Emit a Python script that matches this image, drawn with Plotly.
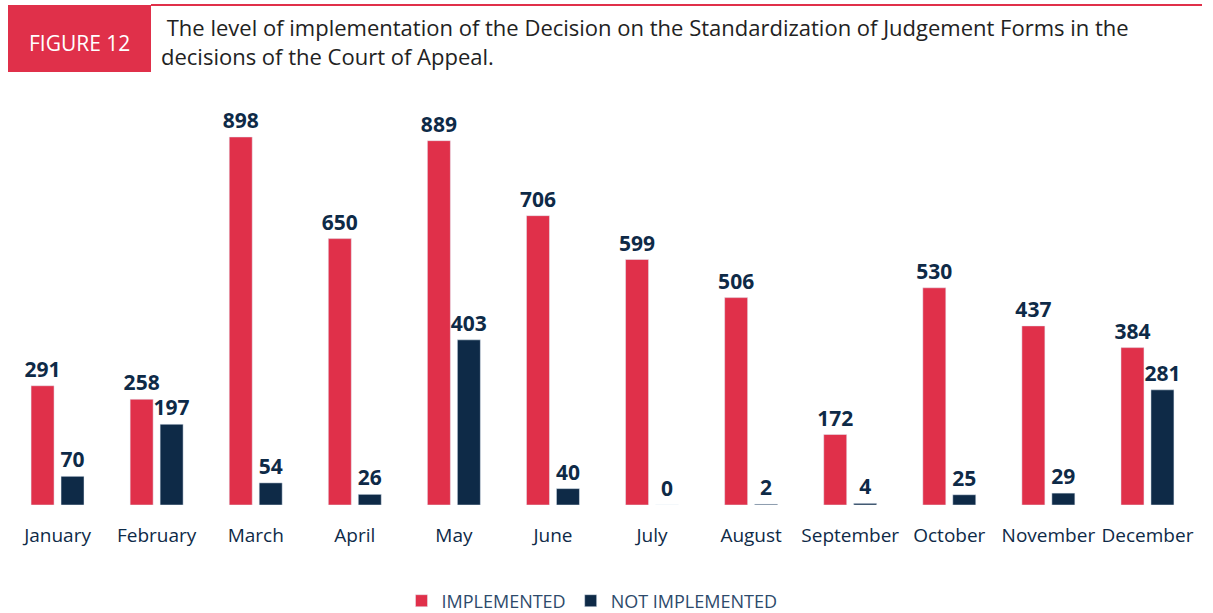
import plotly.graph_objects as go

months = ["January", "February", "March", "April", "May", "June", "July",
          "August", "September", "October", "November", "December"]
implemented = [291, 258, 898, 650, 889, 706, 599, 506, 172, 530, 437, 384]
not_implemented = [70, 197, 54, 26, 403, 40, 0, 2, 4, 25, 29, 281]

RED = "#e0304a"
NAVY = "#0e2a47"
FONT = "Open Sans"

W, H = 1213, 613
L, R, T, B = 8, 16, 105, 108
PW, PH = W - L - R, H - T - B


def px(x):
    return (x - L) / PW


def py(y):
    return (H - B - y) / PH


fig = go.Figure()
for name, vals, col in [("IMPLEMENTED", implemented, RED),
                        ("NOT IMPLEMENTED", not_implemented, NAVY)]:
    fig.add_trace(go.Bar(
        x=months, y=vals, name=name, marker_color=col,
        text=vals, textposition="outside", cliponaxis=False,
        constraintext="none",
        textfont=dict(family=FONT, size=21, color=NAVY, weight="bold"),
    ))

fig.update_layout(
    width=W, height=H,
    margin=dict(l=L, r=R, t=T, b=B, autoexpand=False),
    paper_bgcolor="white", plot_bgcolor="white",
    barmode="group", bargap=0.395, bargroupgap=0.233,
    font=dict(family=FONT, color=NAVY),
    showlegend=True,
    legend=dict(orientation="h", x=px(592), xanchor="center", y=py(601), yanchor="middle",
                font=dict(family=FONT, size=18, color="#2d4a6b"),
                traceorder="normal"),
)
fig.update_xaxes(
    showline=False, showgrid=False, zeroline=False, automargin=False,
    ticks="outside", ticklen=13, tickcolor="rgba(0,0,0,0)", tickangle=0,
    tickfont=dict(family=FONT, size=19, color=NAVY, weight=500),
)
fig.update_yaxes(
    range=[0, 976], visible=False, showgrid=False, zeroline=False, automargin=False,
)

# Header: red box with label, title text, and thin red rule
fig.add_shape(type="rect", xref="paper", yref="paper",
              x0=px(8), x1=px(151), y0=py(72), y1=py(5),
              fillcolor=RED, line_width=0, layer="above")
fig.add_shape(type="line", xref="paper", yref="paper",
              x0=px(151), x1=px(1202), y0=py(5), y1=py(5),
              line=dict(color=RED, width=2))
fig.add_annotation(xref="paper", yref="paper",
                   x=px(79.5), y=py(43),
                   text="FIGURE 12", showarrow=False,
                   font=dict(family=FONT, size=21, color="white"),
                   xanchor="center", yanchor="middle")
fig.add_annotation(xref="paper", yref="paper",
                   x=px(159), y=py(41),
                   text=" The level of implementation of the Decision on the Standardization of Judgement Forms in the<br>decisions of the Court of Appeal.",
                   showarrow=False, align="left",
                   font=dict(family=FONT, size=22, color="#222222"),
                   xanchor="left", yanchor="middle")

fig.write_html("out.html", config={"displayModeBar": False},
               post_script="document.body.style.margin='0';")
